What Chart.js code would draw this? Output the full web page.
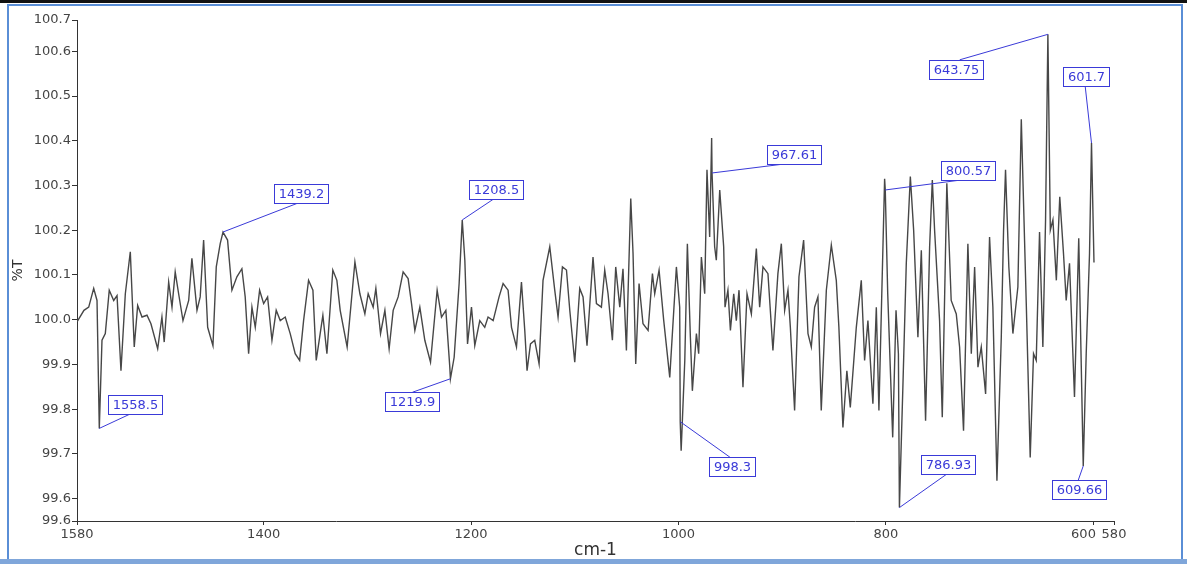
<!DOCTYPE html>
<html>
<head>
<meta charset="utf-8">
<title>%T vs cm-1</title>
<script src="https://cdn.jsdelivr.net/npm/chart.js@4.4.1/dist/chart.umd.min.js"></script>
<style>
  html, body { margin: 0; padding: 0; background: #ffffff; }
  #wrap { width: 1187px; height: 564px; position: relative; }
  canvas { display: block; }
</style>
</head>
<body>
<div id="wrap"><canvas id="spectrum" width="1187" height="564"></canvas></div>
<script>
// Spectrum samples: wavenumber (cm-1) and transmittance (%T)
const wavenumbers = [
  1580.0, 1573.3, 1568.7, 1563.9, 1560.7, 1558.5, 1555.9, 1552.7, 1548.9, 1544.6,
  1541.4, 1537.6, 1533.4, 1528.6, 1524.8, 1521.5, 1517.3, 1512.5, 1508.7, 1502.2,
  1498.1, 1495.9, 1491.6, 1488.4, 1485.3, 1482.0, 1477.8, 1472.3, 1469.2, 1464.3,
  1461.2, 1457.9, 1454.0, 1448.9, 1445.7, 1441.9, 1439.2, 1434.8, 1430.6, 1425.8,
  1421.0, 1417.8, 1414.5, 1411.3, 1408.1, 1403.9, 1400.0, 1396.2, 1392.0, 1387.9,
  1384.0, 1379.2, 1374.4, 1369.6, 1365.3, 1361.5, 1356.7, 1352.5, 1349.3, 1345.5,
  1342.9, 1339.0, 1333.3, 1329.4, 1326.2, 1319.5, 1312.0, 1307.2, 1302.4, 1299.2,
  1294.4, 1291.8, 1287.3, 1283.1, 1279.0, 1275.1, 1270.3, 1265.5, 1260.7, 1257.4,
  1254.2, 1249.4, 1244.6, 1239.1, 1232.7, 1228.5, 1224.3, 1220.5, 1219.9, 1216.3,
  1211.5, 1208.5, 1206.0, 1203.4, 1199.6, 1196.4, 1191.6, 1186.8, 1183.6, 1178.7,
  1173.0, 1169.1, 1164.3, 1161.0, 1156.2, 1151.4, 1148.2, 1146.0, 1142.7, 1138.6,
  1134.4, 1130.6, 1124.1, 1119.3, 1116.1, 1111.9, 1108.0, 1104.8, 1100.0, 1095.2,
  1092.0, 1088.2, 1082.4, 1079.1, 1074.3, 1071.1, 1067.9, 1063.7, 1060.5, 1056.6,
  1053.5, 1050.2, 1046.0, 1043.8, 1041.2, 1038.0, 1034.2, 1029.3, 1025.1, 1022.9,
  1018.7, 1014.2, 1008.4, 1002.0, 998.8, 998.3, 997.4, 993.9, 991.4, 988.5,
  986.6, 982.7, 980.5, 977.9, 974.7, 972.5, 969.9, 968.0, 967.61, 965.1,
  963.5, 960.2, 956.4, 955.1, 952.3, 949.9, 946.7, 944.2, 941.6, 937.8,
  933.9, 929.7, 924.9, 921.7, 918.5, 913.7, 908.9, 904.1, 900.8, 897.6,
  894.4, 892.1, 888.0, 883.8, 879.3, 875.1, 871.9, 868.7, 865.5, 862.3,
  857.4, 852.6, 847.8, 845.3, 841.4, 837.6, 834.3, 828.5, 823.7, 820.5,
  817.3, 812.5, 809.2, 806.7, 801.2, 800.57, 798.2, 793.4, 790.2, 787.9,
  786.93, 783.6, 780.3, 776.4, 773.2, 769.1, 765.8, 761.7, 757.8, 755.2,
  753.0, 748.2, 745.6, 741.2, 737.0, 732.1, 728.9, 725.1, 720.9, 717.6,
  714.4, 711.2, 708.0, 703.8, 700.0, 696.8, 692.9, 688.7, 686.5, 684.6,
  681.4, 677.5, 672.7, 669.4, 664.6, 660.8, 657.6, 655.0, 651.8, 648.6,
  646.0, 643.75, 641.4, 638.9, 635.6, 632.3, 628.7, 626.1, 622.9, 618.1,
  614.0, 609.66, 606.8, 603.6, 601.7, 599.3
];

const transmittance = [
  99.995, 100.021, 100.028, 100.070, 100.043, 99.757, 99.954, 99.969, 100.066, 100.043,
  100.054, 99.886, 100.058, 100.152, 99.939, 100.032, 100.006, 100.010, 99.991, 99.935,
  100.006, 99.950, 100.084, 100.028, 100.107, 100.058, 99.998, 100.043, 100.137, 100.021,
  100.051, 100.178, 99.983, 99.942, 100.118, 100.170, 100.196, 100.178, 100.066, 100.096,
  100.114, 100.051, 99.924, 100.028, 99.983, 100.066, 100.036, 100.051, 99.954, 100.021,
  99.998, 100.006, 99.969, 99.924, 99.909, 99.998, 100.088, 100.066, 99.909, 99.969,
  100.010, 99.924, 100.111, 100.088, 100.021, 99.939, 100.129, 100.058, 100.013, 100.058,
  100.028, 100.070, 99.969, 100.021, 99.935, 100.021, 100.051, 100.107, 100.092, 100.036,
  99.976, 100.028, 99.954, 99.905, 100.066, 100.006, 100.021, 99.894, 99.868, 99.916,
  100.081, 100.223, 100.133, 99.946, 100.028, 99.942, 99.998, 99.983, 100.006, 99.998,
  100.051, 100.081, 100.066, 99.983, 99.939, 100.084, 99.976, 99.886, 99.946, 99.954,
  99.901, 100.088, 100.163, 100.066, 100.006, 100.118, 100.111, 100.021, 99.905, 100.070,
  100.051, 99.942, 100.140, 100.036, 100.028, 100.111, 100.058, 99.954, 100.118, 100.028,
  100.114, 99.931, 100.271, 100.148, 99.901, 100.081, 99.991, 99.976, 100.103, 100.058,
  100.111, 99.998, 99.871, 100.118, 100.028, 99.772, 99.707, 99.909, 100.170, 99.961,
  99.841, 99.969, 99.924, 100.140, 100.058, 100.335, 100.185, 100.406, 100.328, 100.163,
  100.133, 100.290, 100.163, 100.028, 100.066, 99.976, 100.058, 99.998, 100.066, 99.849,
  100.058, 100.013, 100.159, 100.028, 100.118, 100.103, 99.931, 100.103, 100.170, 100.021,
  100.066, 99.983, 99.797, 100.096, 100.178, 99.969, 99.939, 100.028, 100.051, 99.797,
  100.066, 100.167, 100.088, 99.983, 99.759, 99.886, 99.804, 99.983, 100.088, 99.909,
  99.998, 99.812, 100.028, 99.797, 100.315, 100.290, 100.058, 99.737, 100.021, 99.924,
  99.580, 99.849, 100.126, 100.320, 100.200, 99.961, 100.155, 99.774, 100.163, 100.312,
  100.200, 99.998, 99.782, 100.305, 100.043, 100.013, 99.939, 99.752, 100.170, 99.924,
  100.118, 99.894, 99.939, 99.834, 100.185, 100.028, 99.640, 99.961, 100.200, 100.335,
  100.118, 99.969, 100.073, 100.448, 100.036, 99.692, 99.924, 99.909, 100.196, 99.939,
  100.223, 100.638, 100.200, 100.223, 100.088, 100.275, 100.148, 100.043, 100.126, 99.827,
  100.182, 99.673, 99.924, 100.148, 100.395, 100.128
];

// Peak picks shown as callouts (wavenumbers present in the series above)
const peakLabels = [1558.5, 1439.2, 1208.5, 1219.9, 998.3, 967.61, 800.57, 643.75, 601.7, 609.66, 786.93];

// Axis extents and tick positions
const xMin = 580, xMax = 1580;
const yMin = 99.55, yMax = 100.67;
const xTickValues = [1580, 1400, 1200, 1000, 800, 600, 580];
const yTickValues = [yMin, 99.6, 99.7, 99.8, 99.9, 100.0, 100.1, 100.2, 100.3, 100.4, 100.5, 100.6, yMax];

// Callout placement: box centre offset from the peak (px) and where the leader meets the box edge
const calloutLayout = {
  '1558.5': { dx: 36, dy: -24, edge: 'bottom', at: 0.41 },
  '1439.2': { dx: 78, dy: -39, edge: 'bottom', at: 0.47 },
  '1208.5': { dx: 34, dy: -30, edge: 'bottom', at: 0.44 },
  '1219.9': { dx: -38, dy: 23, edge: 'top', at: 0.5 },
  '998.3':  { dx: 52, dy: 45, edge: 'top', at: 0.45 },
  '967.61': { dx: 82, dy: -18, edge: 'bottom', at: 0.25 },
  '800.57': { dx: 83, dy: -19, edge: 'bottom', at: 0.3 },
  '643.75': { dx: -92, dy: 35, edge: 'top', at: 0.57 },
  '601.7':  { dx: -5, dy: -67, edge: 'bottom', at: 0.47 },
  '609.66': { dx: -4, dy: 24, edge: 'top', at: 0.48 },
  '786.93': { dx: 49, dy: -43, edge: 'bottom', at: 0.47 }
};

const FONT = "'DejaVu Sans', 'Liberation Sans', sans-serif";
const TEXT = '#444444';
const AXIS = '#333333';
const CALLOUT = '#3a3ad8';

// Window frame around the plot
const framePlugin = {
  id: 'frame',
  beforeDraw(chart) {
    const ctx = chart.ctx;
    const W = chart.width, H = chart.height;
    ctx.save();
    ctx.fillStyle = '#ffffff';
    ctx.fillRect(0, 0, W, H);
    ctx.fillStyle = '#111111';
    ctx.fillRect(0, 0, W, 3);
    ctx.strokeStyle = '#5a8ed6';
    ctx.lineWidth = 2;
    ctx.strokeRect(8, 5, W - 13, H - 9);
    ctx.fillStyle = '#7fa6da';
    ctx.fillRect(0, H - 5, W, 5);
    ctx.restore();
  }
};

// Peak-pick callouts: boxed labels joined to their peaks by leader lines
const calloutPlugin = {
  id: 'callouts',
  afterDatasetsDraw(chart) {
    const ctx = chart.ctx;
    const xs = chart.scales.x, ys = chart.scales.y;
    ctx.save();
    ctx.font = '13px ' + FONT;
    ctx.textAlign = 'center';
    ctx.textBaseline = 'middle';
    peakLabels.forEach(w => {
      const i = wavenumbers.indexOf(w);
      if (i < 0) return;
      const px = xs.getPixelForValue(w);
      const py = ys.getPixelForValue(transmittance[i]);
      const lay = calloutLayout[String(w)];
      const text = String(w);
      const bw = ctx.measureText(text).width + 9;
      const bh = 19;
      const cx = px + lay.dx, cy = py + lay.dy;
      const bx = cx - bw / 2, by = cy - bh / 2;
      const ex = bx + bw * lay.at;
      const ey = lay.edge === 'bottom' ? by + bh : by;
      ctx.strokeStyle = CALLOUT;
      ctx.lineWidth = 1;
      ctx.beginPath();
      ctx.moveTo(px, py);
      ctx.lineTo(ex, ey);
      ctx.stroke();
      ctx.fillStyle = '#ffffff';
      ctx.fillRect(Math.round(bx) + 0.5, Math.round(by) + 0.5, Math.round(bw), bh);
      ctx.strokeRect(Math.round(bx) + 0.5, Math.round(by) + 0.5, Math.round(bw), bh);
      ctx.fillStyle = CALLOUT;
      ctx.fillText(text, Math.round(bx) + 0.5 + Math.round(bw) / 2, Math.round(by) + 0.5 + bh / 2 + 0.5);
    });
    ctx.restore();
  }
};

new Chart(document.getElementById('spectrum'), {
  type: 'line',
  data: {
    datasets: [{
      data: wavenumbers.map((w, i) => ({ x: w, y: transmittance[i] })),
      borderColor: '#474747',
      borderWidth: 1.4,
      pointRadius: 0,
      tension: 0,
      fill: false
    }]
  },
  options: {
    responsive: false,
    devicePixelRatio: 1,
    animation: false,
    layout: { padding: { left: 0, top: 20, right: 73, bottom: 0 } },
    plugins: { legend: { display: false }, tooltip: { enabled: false } },
    scales: {
      x: {
        type: 'linear',
        reverse: true,
        min: xMin,
        max: xMax,
        afterBuildTicks(s) { s.ticks = xTickValues.map(v => ({ value: v })); },
        afterFit(s) { s.height = 43; },
        ticks: {
          autoSkip: false,
          maxRotation: 0,
          padding: 2,
          color: TEXT,
          font: { family: FONT, size: 13 },
          callback: v => (v === 600 ? '600\u2002\u2002\u2002' : String(v))
        },
        grid: { drawOnChartArea: false, drawTicks: true, tickLength: 4, color: AXIS },
        border: { display: true, color: AXIS, width: 1 },
        title: {
          display: true,
          text: 'cm-1',
          color: '#333333',
          font: { family: FONT, size: 17 },
          padding: { top: 0, bottom: 3 }
        }
      },
      y: {
        type: 'linear',
        min: yMin,
        max: yMax,
        afterBuildTicks(s) { s.ticks = yTickValues.map(v => ({ value: v })); },
        afterFit(s) { s.width = 77; },
        ticks: {
          autoSkip: false,
          padding: 1,
          color: TEXT,
          font: { family: FONT, size: 13 },
          callback: v => (Math.round(v * 10 + 1e-6) / 10).toFixed(1)
        },
        grid: { drawOnChartArea: false, drawTicks: true, tickLength: 5, color: AXIS },
        border: { display: true, color: AXIS, width: 1 },
        title: {
          display: true,
          text: '%T',
          color: '#333333',
          font: { family: FONT, size: 14 },
          padding: { top: 10, bottom: 0 }
        }
      }
    }
  },
  plugins: [framePlugin, calloutPlugin]
});
</script>
</body>
</html>
